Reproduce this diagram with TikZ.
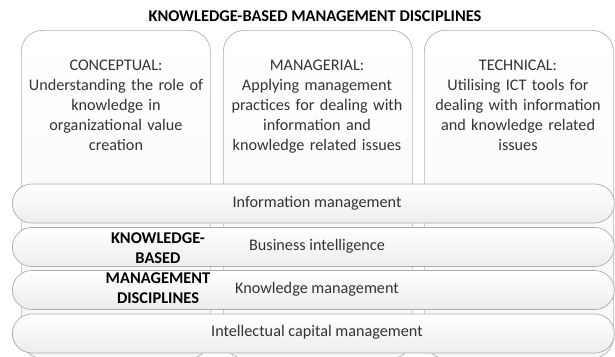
\documentclass[tikz,border=0pt]{standalone}
\usepackage{fontspec}
\setmainfont{Carlito}
\begin{document}
\begin{tikzpicture}[x=1pt,y=-1pt,
  colbox/.style={draw=gray!60, line width=0.7pt, top color=white, bottom color=gray!6, rounded corners=21pt, minimum width=189pt, minimum height=328pt, anchor=north west, inner sep=0pt},
  band/.style={draw=gray!65, line width=0.7pt, top color=white, bottom color=gray!14, rounded corners=19.5pt, minimum width=602pt, minimum height=39pt, anchor=west, inner sep=0pt},
  coltext/.style={align=center, text width=189pt, anchor=north, inner sep=0pt, text=black!80, font=\fontsize{16.2}{20}\selectfont},
  bandtext/.style={text=black!80, font=\fontsize{16.2}{20}\selectfont},
  sidetext/.style={align=center, font=\fontsize{16.4}{20}\selectfont\bfseries, text=black}
]
\useasboundingbox (0,0) rectangle (615,356);
\node[font=\fontsize{16.4}{20}\selectfont\bfseries] (title) at (315,16) {KNOWLEDGE-BASED MANAGEMENT DISCIPLINES};
\node[colbox] (c1) at (21,30) {};
\node[colbox] (c2) at (223,30) {};
\node[colbox] (c3) at (424,30) {};
\node[coltext] (t1) at (116,60) {CONCEPTUAL:\\Understanding the role of\\knowledge in\\organizational value\\creation};
\node[coltext] (t2) at (317,60) {MANAGERIAL:\\Applying management\\practices for dealing with\\information and\\knowledge related issues};
\node[coltext] (t3) at (518,60) {TECHNICAL:\\Utilising ICT tools for\\dealing with information\\and knowledge related\\issues};
\node[band] (b1) at (12,203.5) {};
\node[band] (b2) at (12,247) {};
\node[band] (b3) at (12,290) {};
\node[band] (b4) at (12,333.5) {};
\node[bandtext] (l1) at (317,203) {Information management};
\node[bandtext] (l2) at (317,246) {Business intelligence};
\node[bandtext] (l3) at (317,289) {Knowledge management};
\node[bandtext] (l4) at (317,332) {Intellectual capital management};
\node[sidetext] (side) at (158,268) {KNOWLEDGE-\\BASED\\MANAGEMENT\\DISCIPLINES};
\end{tikzpicture}
\end{document}
